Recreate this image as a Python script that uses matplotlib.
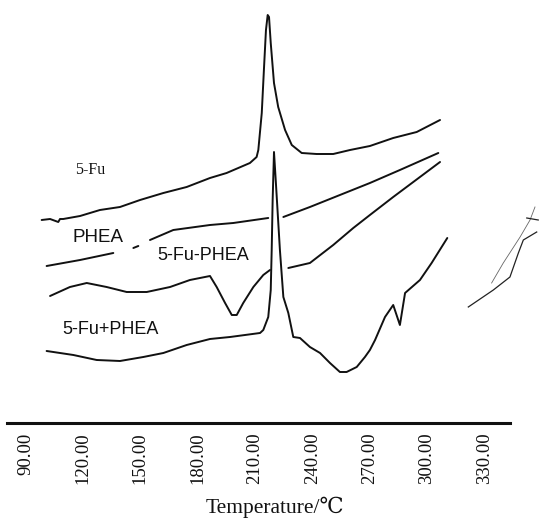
"""
DSC thermograms: 5-Fu, PHEA, 5-Fu-PHEA conjugate and 5-Fu+PHEA physical mixture
"""
import matplotlib
matplotlib.use('Agg')
import matplotlib.pyplot as plt
import numpy as np

INK = '#111111'
SERIF = ['Liberation Serif', 'DejaVu Serif']
SANS = ['Liberation Sans', 'DejaVu Sans']

# ── data (temperature in °C, heat flow in arbitrary units) ──
nan = np.nan

fu_t = [98.4, 102.8, 107.1, 108.0, 109.7, 118.5, 128.9, 139.4, 149.9, 162.1, 174.3,
        186.5, 195.2, 207.4, 210.9, 211.8, 213.6, 214.8, 215.8, 216.7, 217.4, 218.3,
        220.0, 222.2, 225.8, 229.3, 234.5, 242.3, 251.0, 259.8, 270.2, 282.4, 294.7, 306.9]
fu_h = [203, 204, 201, 204, 204, 207, 213, 216, 223, 230, 236,
        245, 250, 260, 266, 273, 310, 356, 393, 408, 406, 380,
        340, 316, 293, 278, 270, 269, 269, 273, 277, 285, 291, 303]

phea_t = [101.0, 118.5, 135.9, nan, 146.4, 149.0, nan, 155.1, 167.3, 186.5, 198.7, 217.0,
          nan, 224.9, 238.8, 254.5, 270.2, 285.9, 306.0]
phea_h = [157, 163, 170, nan, 175, 177, nan, 183, 193, 198, 200, 205,
          nan, 206, 216, 228, 240, 253, 270]

conj_t = [102.8, 113.2, 122.0, 132.4, 142.9, 153.4, 165.6, 176.0, 186.5, 190.0, 194.4,
          197.9, 200.5, 203.9, 209.2, 214.4, 217.9, nan, 227.5, 238.8, 251.0, 261.5,
          270.2, 282.4, 306.9]
conj_h = [127, 136, 140, 136, 131, 131, 136, 143, 147, 136, 120,
          108, 108, 120, 136, 148, 153, nan, 155, 160, 178, 195,
          208, 226, 261]

mix_t = [101.0, 115.0, 127.2, 139.4, 151.6, 162.1, 174.3, 186.5, 197.0, 212.7, 214.4,
         217.0, 218.3, 218.8, 219.3, 220.0, 221.0, 223.1, 224.9, 227.5, 230.1, 233.6,
         238.8, 244.1, 249.3, 254.5, 258.0, 263.3, 267.6, 270.2, 272.9, 278.1, 282.4,
         285.9, 288.6, 296.4, 302.5, 310.7]
mix_h = [72, 68, 63, 62, 66, 70, 78, 84, 86, 90, 93,
         106, 133, 173, 223, 271, 240, 173, 126, 110, 86, 85,
         76, 70, 60, 51, 51, 56, 66, 73, 83, 106, 118,
         98, 130, 143, 160, 185]

# stray pen strokes at the right edge of the scan
stray1_t = [321.7, 334.8, 343.5, 347.9, 350.5, 357.5]
stray1_h = [116, 133, 146, 170, 183, 191]
stray2_t = [333.9, 340.0, 348.8, 354.0, 356.6]
stray2_h = [140, 160, 186, 203, 216]
stray3_t = [352.3, 358.3]
stray3_h = [205, 203]

ticks = [90, 120, 150, 180, 210, 240, 270, 300, 330]
tick_labels = [f'{v:.2f}' for v in ticks]

# ── figure ──
fig = plt.figure(figsize=(5.39, 5.32), dpi=100, facecolor='white')
ax = fig.add_axes([0, 0.2049, 1, 0.7951])
ax.set_facecolor('white')

for t, h in [(fu_t, fu_h), (phea_t, phea_h), (conj_t, conj_h), (mix_t, mix_h)]:
    ax.plot(t, h, color=INK, linewidth=1.4, solid_joinstyle='round', solid_capstyle='round')

ax.plot(stray1_t, stray1_h, color='#222222', linewidth=0.9)
ax.plot(stray2_t, stray2_h, color='#666666', linewidth=0.6)
ax.plot(stray3_t, stray3_h, color='#222222', linewidth=0.9)

# curve labels
ax.text(115.8, 253, '5-Fu', fontsize=11.5, family=SERIF, color=INK, va='center')
ax.text(114.8, 185, 'PHEA', fontsize=13.5, family=SANS, color=INK, va='center')
ax.text(158.8, 167, '5-Fu-PHEA', fontsize=13, family=SANS, color=INK, va='center')
ax.text(109.0, 93, '5-Fu+PHEA', fontsize=13, family=SANS, color=INK, va='center')

ax.set_xlim(76.6, 358.7)
ax.set_ylim(0, 423)
ax.set_xticks(ticks)
ax.set_xticklabels(tick_labels, rotation=90, fontsize=13.5, family=SERIF, color=INK)
ax.tick_params(axis='x', length=0, pad=7)
ax.set_yticks([])
for s in ['top', 'right', 'left']:
    ax.spines[s].set_visible(False)
ax.spines['bottom'].set_linewidth(2.2)
ax.spines['bottom'].set_color(INK)
ax.spines['bottom'].set_bounds(80.3, 343.5)

fig.text(275 / 539, 1 - 507 / 532, 'Temperature/℃', fontsize=15.5, family=SERIF,
         color=INK, ha='center', va='center')

plt.savefig('out.png', dpi=100, facecolor='white')
print("Saved: out.png")
plt.close()
